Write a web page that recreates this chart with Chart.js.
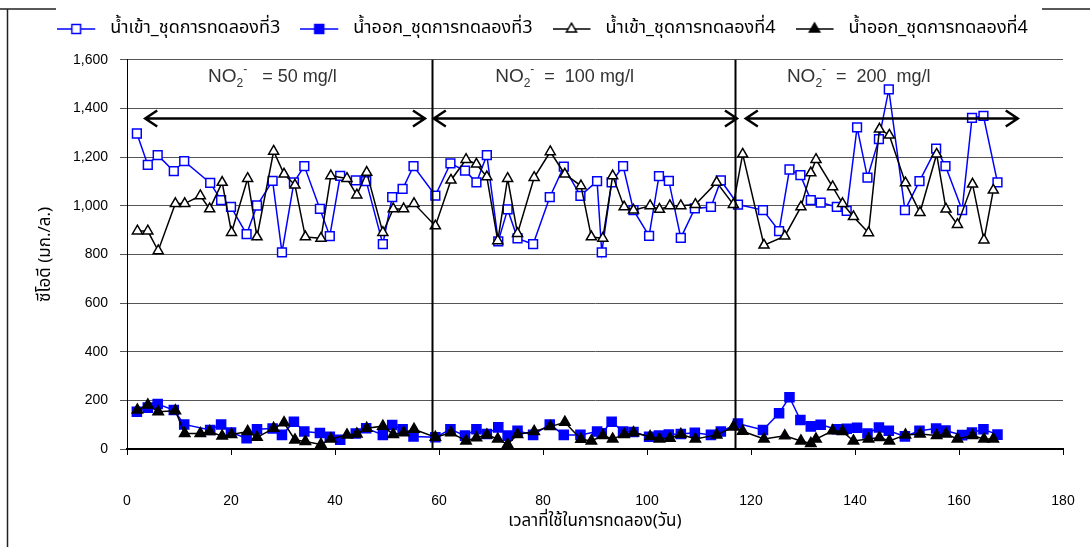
<!DOCTYPE html>
<html>
<head>
<meta charset="utf-8">
<script src="https://cdn.jsdelivr.net/npm/chart.js@4.4.1/dist/chart.umd.min.js"></script>
<style>
html, body { margin: 0; padding: 0; background: #fff; }
#wrap { position: relative; width: 1090px; height: 547px; }
</style>
</head>
<body>
<div id="wrap"><canvas id="cod"></canvas></div>
<script>
// COD of influent / effluent for runs 3 and 4 under three nitrite loads.

const DAYS_RUN3 = [1.9, 4, 5.9, 9, 11, 16, 18.1, 20, 23, 25, 28, 29.8, 32.1, 34.1, 37.1, 39, 41, 44, 46, 49.2,
	51, 53, 55.1, 59.3, 62.2, 65, 67.2, 69.2, 71.4, 73.2, 75.1, 78.1, 81.3, 84, 87.2, 90.4, 91.3, 93.2, 95.4, 97.4,
	100.4, 102.3, 104.2, 106.5, 109.2, 112.3, 114.2, 117.5, 122.3, 125.4, 127.4, 129.5, 131.5, 133.4, 136.5, 138.4, 140.4, 142.4, 144.6, 146.5,
	149.6, 152.4, 155.6, 157.4, 160.6, 162.5, 164.7, 167.4];
const IN_RUN3 = [1297, 1168, 1208, 1142, 1183, 1094, 1023, 995, 883, 1001, 1102, 808, 1096, 1163, 987, 875, 1123, 1104, 1101, 842,
	1035, 1069, 1163, 1042, 1174, 1144, 1096, 1208, 854, 985, 866, 842, 1035, 1161, 1041, 1101, 808, 1096, 1163, 982,
	876, 1122, 1102, 868, 989, 995, 1104, 1005, 982, 896, 1149, 1126, 1023, 1013, 995, 979, 1322, 1116, 1274, 1478,
	982, 1101, 1235, 1163, 982, 1361, 1369, 1096];
const OUT_RUN3 = [153, 170, 185, 160, 101, 78, 101, 68, 44, 81, 84, 58, 112, 72, 66, 50, 38, 64, 85, 58,
	99, 81, 51, 48, 81, 55, 81, 62, 89, 55, 75, 58, 101, 58, 58, 72, 65, 112, 72, 70,
	50, 55, 60, 62, 67, 58, 72, 105, 78, 147, 213, 119, 93, 100, 81, 83, 87, 64, 88, 75,
	52, 75, 84, 76, 57, 68, 81, 59];

const DAYS_RUN4 = [2, 4, 6, 9.3, 11.1, 14.1, 15.9, 18.3, 20.1, 23.2, 25, 28.2, 30.2, 32.3, 34.3, 37.3, 39.2, 42.3, 44.2, 46.1,
	49.2, 51.2, 53.2, 55.2, 59.3, 62.3, 65.2, 67.2, 69.2, 71.3, 73.2, 75.1, 78.3, 81.4, 84.2, 87.3, 89.3, 91.5, 93.4, 95.6,
	97.4, 100.6, 102.4, 104.4, 106.5, 109.3, 113.4, 116.6, 118.4, 122.5, 126.5, 129.6, 131.5, 132.5, 135.7, 137.6, 139.7, 142.6, 144.7, 146.6,
	149.7, 152.5, 155.7, 157.5, 159.7, 162.6, 164.8, 166.6];
const IN_RUN4 = [896, 896, 815, 1009, 1009, 1041, 987, 1096, 890, 1112, 872, 1224, 1130, 1085, 872, 866, 1123, 1112, 1044, 1137,
	890, 987, 987, 1009, 917, 1105, 1190, 1171, 1119, 856, 1112, 886, 1116, 1222, 1130, 1082, 872, 866, 1123, 995,
	982, 1000, 985, 1000, 1000, 1005, 1096, 1005, 1212, 838, 875, 995, 1135, 1190, 1078, 1009, 955, 889, 1315, 1290,
	1094, 972, 1212, 986, 923, 1089, 859, 1064];
const OUT_RUN4 = [160, 181, 153, 157, 64, 64, 72, 53, 60, 72, 48, 85, 108, 37, 31, 19, 41, 58, 62, 85,
	94, 60, 67, 81, 48, 67, 33, 46, 58, 41, 19, 60, 72, 92, 110, 40, 33, 55, 41, 60,
	67, 51, 41, 44, 60, 41, 58, 90, 73, 41, 54, 33, 23, 41, 75, 72, 33, 41, 47, 33,
	58, 62, 56, 62, 41, 55, 41, 41];

const SERIES_NAMES = ['น้ำเข้า_ชุดการทดลองที่3', 'น้ำออก_ชุดการทดลองที่3', 'น้ำเข้า_ชุดการทดลองที่4', 'น้ำออก_ชุดการทดลองที่4'];
const X_TICKS = [0, 20, 40, 60, 80, 100, 120, 140, 160, 180];
const Y_TICKS = [0, 200, 400, 600, 800, 1000, 1200, 1400, 1600];
const X_TITLE = 'เวลาที่ใช้ในการทดลอง(วัน)';
const Y_TITLE = 'ซีโอดี (มก./ล.)';

// phase breaks, arrow spans and nitrite load labels (in data units)
const PHASE_BREAKS = [58.6, 116.9];
const PHASE_SPANS = [[3.5, 57.3], [59, 117.3], [119, 171.3]];
const PHASE_TEXT_DAY = [15.6, 70.8, 126.9];
const PHASE_TEXT_REST = ['   = 50 mg/l', '  =  100 mg/l', '  =  200  mg/l'];
const ARROW_COD = 1360;
const TEXT_COD = 1507;

const BLUE = '#0000ff';
const BLACK = '#000000';
const FONT = "'Liberation Sans', Arial, sans-serif";
const THAI_FONT = "'Noto Sans Thai', 'Liberation Sans', sans-serif";

function series(i, days, vals, color, style, filled, r) {
	return {
		label: SERIES_NAMES[i],
		data: days.map((d, k) => ({ x: d, y: vals[k] })),
		showLine: true,
		borderColor: color,
		borderWidth: 1.5,
		backgroundColor: filled ? color : '#fff',
		pointStyle: style,
		pointRadius: r,
		pointHoverRadius: r,
		pointBorderColor: color,
		pointBackgroundColor: filled ? color : '#fff',
		pointBorderWidth: 1.5,
		order: 3 - i,
	};
}

// line + marker swatch for the legend (right part left blank as a gap)
function swatch(color, style, filled, r) {
	const c = document.createElement('canvas');
	c.width = 44; c.height = 16;
	const g = c.getContext('2d');
	g.strokeStyle = color; g.lineWidth = 1.5;
	g.beginPath(); g.moveTo(0, 8); g.lineTo(38, 8); g.stroke();
	g.fillStyle = filled ? color : '#fff';
	Chart.helpers.drawPoint(g, { pointStyle: style, radius: r, borderWidth: 1.5 }, 19, 8);
	return c;
}

const datasets = [
	series(0, DAYS_RUN3, IN_RUN3, BLUE, 'rect', false, 6.2),
	series(1, DAYS_RUN3, OUT_RUN3, BLUE, 'rect', true, 6.4),
	series(2, DAYS_RUN4, IN_RUN4, BLACK, 'triangle', false, 5.8),
	series(3, DAYS_RUN4, OUT_RUN4, BLACK, 'triangle', true, 6),
];

const phasePlugin = {
	id: 'phases',
	beforeDraw(chart) {
		const { ctx, width, height } = chart;
		ctx.save();
		ctx.fillStyle = '#fff';
		ctx.fillRect(0, 0, width, height);
		// outer frame; the legend band hides the middle of its top edge
		ctx.strokeStyle = '#222';
		ctx.lineWidth = 1.5;
		ctx.beginPath();
		ctx.moveTo(0, 9); ctx.lineTo(56, 9);
		ctx.moveTo(1042, 9); ctx.lineTo(width, 9);
		ctx.moveTo(7.5, 9); ctx.lineTo(7.5, height);
		ctx.stroke();
		ctx.restore();
	},
	afterDatasetsDraw(chart) {
		const { ctx, scales: { x, y } } = chart;
		ctx.save();
		ctx.strokeStyle = BLACK;
		ctx.lineWidth = 2;
		PHASE_BREAKS.forEach(d => {
			const px = Math.round(x.getPixelForValue(d)) + 0.5;
			ctx.beginPath();
			ctx.moveTo(px, y.getPixelForValue(1600));
			ctx.lineTo(px, y.getPixelForValue(0));
			ctx.stroke();
		});
		// double-headed arrows
		const ay = Math.round(y.getPixelForValue(ARROW_COD)) + 0.5;
		ctx.lineWidth = 2.5;
		PHASE_SPANS.forEach(([a, b]) => {
			const x0 = x.getPixelForValue(a), x1 = x.getPixelForValue(b);
			ctx.beginPath();
			ctx.moveTo(x0, ay); ctx.lineTo(x1, ay);
			ctx.moveTo(x0 + 12, ay - 8); ctx.lineTo(x0, ay); ctx.lineTo(x0 + 12, ay + 8);
			ctx.moveTo(x1 - 12, ay - 8); ctx.lineTo(x1, ay); ctx.lineTo(x1 - 12, ay + 8);
			ctx.stroke();
		});
		// NO2- load labels
		ctx.fillStyle = '#333';
		ctx.textBaseline = 'alphabetic';
		const by = y.getPixelForValue(TEXT_COD);
		PHASE_TEXT_DAY.forEach((d, i) => {
			let tx = x.getPixelForValue(d);
			ctx.font = '19px ' + FONT;
			ctx.fillText('NO', tx, by);
			tx += ctx.measureText('NO').width;
			ctx.font = '12px ' + FONT;
			ctx.fillText('2', tx, by + 5);
			tx += ctx.measureText('2').width;
			ctx.fillText('-', tx, by - 9);
			tx += ctx.measureText('-').width;
			ctx.font = '18px ' + FONT;
			ctx.fillText(PHASE_TEXT_REST[i], tx, by);
		});
		ctx.restore();
	},
};

new Chart(document.getElementById('cod'), {
	type: 'scatter',
	data: { datasets },
	options: {
		responsive: true,
		maintainAspectRatio: false,
		animation: false,
		layout: { padding: { left: 22, right: 27, top: 0, bottom: 14 } },
		plugins: {
			tooltip: { enabled: false },
			legend: {
				position: 'top',
				labels: {
					usePointStyle: true,
					pointStyleWidth: 44,
					padding: 20,
					color: BLACK,
					font: { family: THAI_FONT, size: 18 },
					generateLabels() {
						return [
							{ text: SERIES_NAMES[0], pointStyle: swatch(BLUE, 'rect', false, 6.2), datasetIndex: 0 },
							{ text: SERIES_NAMES[1], pointStyle: swatch(BLUE, 'rect', true, 6.4), datasetIndex: 1 },
							{ text: SERIES_NAMES[2], pointStyle: swatch(BLACK, 'triangle', false, 5.8), datasetIndex: 2 },
							{ text: SERIES_NAMES[3], pointStyle: swatch(BLACK, 'triangle', true, 6), datasetIndex: 3 },
						];
					},
				},
			},
			// empty band between legend and plot
			subtitle: { display: true, text: ' ', weight: 500, font: { size: 9 }, padding: { top: 1, bottom: 0 } },
		},
		scales: {
			x: {
				type: 'linear',
				min: 0, max: 180,
				afterBuildTicks(s) { s.ticks = X_TICKS.map(v => ({ value: v })); },
				afterFit(s) { s.height = 84; s.paddingLeft = 0; s.paddingRight = 0; },
				grid: { drawOnChartArea: false, drawTicks: true, tickLength: 6, color: BLACK },
				border: { color: BLACK, width: 2 },
				ticks: { color: BLACK, font: { family: FONT, size: 14 }, padding: 38, maxRotation: 0 },
				title: { display: true, text: X_TITLE, color: BLACK, font: { family: THAI_FONT, size: 17 }, padding: 0 },
			},
			y: {
				min: 0, max: 1600,
				afterBuildTicks(s) { s.ticks = Y_TICKS.map(v => ({ value: v })); },
				afterFit(s) { s.width = 127 - 22; },
				grid: { color: '#555', tickLength: 7, lineWidth: 1 },
				border: { color: BLACK, width: 1 },
				ticks: {
					color: BLACK, font: { family: FONT, size: 14 }, padding: 12,
					callback(v) { return v.toLocaleString('en-US'); },
				},
				title: { display: true, text: Y_TITLE, color: BLACK, font: { family: THAI_FONT, size: 17 }, padding: { top: 14 } },
			},
		},
	},
	plugins: [phasePlugin],
});
</script>
</body>
</html>
